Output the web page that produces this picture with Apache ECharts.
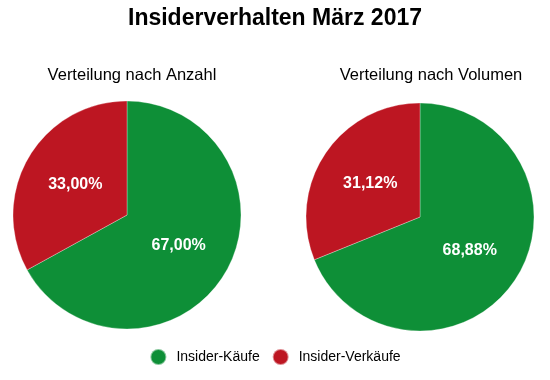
<!DOCTYPE html>
<html>
<head>
<meta charset="utf-8">
<script src="https://cdn.jsdelivr.net/npm/echarts@6/dist/echarts.min.js"></script>
<style>
html,body{margin:0;padding:0;background:#fff;}
#chart{width:550px;height:380px;}
</style>
</head>
<body>
<div id="chart"></div>
<script>
var categories = ['Insider-Käufe', 'Insider-Verkäufe'];
var anzahlValues = [67.00, 33.00];
var volumenValues = [68.88, 31.12];
var pieTitles = ['Verteilung nach Anzahl', 'Verteilung nach Volumen'];
var mainTitle = 'Insiderverhalten März 2017';
var colors = ['#0e8f37', '#bd1622'];
var FONT = '"Liberation Sans Narrow", "Arial Narrow", "Liberation Sans", Arial, sans-serif';

function toData(vals) {
  return categories.map(function (c, i) { return { name: c, value: vals[i] }; });
}
function fmt(p) { return p.value.toFixed(2).replace('.', ',') + '%'; }

var chart = echarts.init(document.getElementById('chart'));
var pieBase = {
  type: 'pie',
  radius: [0, 114],
  startAngle: 90,
  clockwise: true,
  avoidLabelOverlap: false,
  silent: true,
  itemStyle: { borderColor: 'rgba(255,255,255,0.5)', borderWidth: 0.6 },
  label: {
    show: true,
    position: 'inside',
    formatter: fmt,
    color: '#fff',
    fontFamily: FONT,
    fontWeight: 'bold',
    fontSize: 16
  },
  labelLine: { show: false },
  emphasis: { disabled: true }
};
chart.setOption({
  animation: false,
  color: colors,
  title: [
    { text: mainTitle, left: 'center', top: 2,
      textStyle: { fontFamily: FONT, fontWeight: 'bold', fontSize: 23, color: '#000' } },
    { text: pieTitles[0], left: 127, top: 62, textAlign: 'center',
      textStyle: { fontFamily: FONT, fontWeight: 'normal', fontSize: 16.5, color: '#000' } },
    { text: pieTitles[1], left: 426, top: 62, textAlign: 'center',
      textStyle: { fontFamily: FONT, fontWeight: 'normal', fontSize: 16.5, color: '#000' } }
  ],
  legend: {
    data: categories,
    bottom: 9,
    left: 'center',
    icon: 'circle',
    itemWidth: 16,
    itemHeight: 16,
    itemGap: 12,
    textStyle: { fontFamily: FONT, fontSize: 14, color: '#000', padding: [0, 0, 0, 5] }
  },
  series: [
    Object.assign({}, pieBase, { name: pieTitles[0], center: [127, 215], data: toData(anzahlValues) }),
    Object.assign({}, pieBase, { name: pieTitles[1], center: [420, 217], data: toData(volumenValues) })
  ]
});
</script>
</body>
</html>
